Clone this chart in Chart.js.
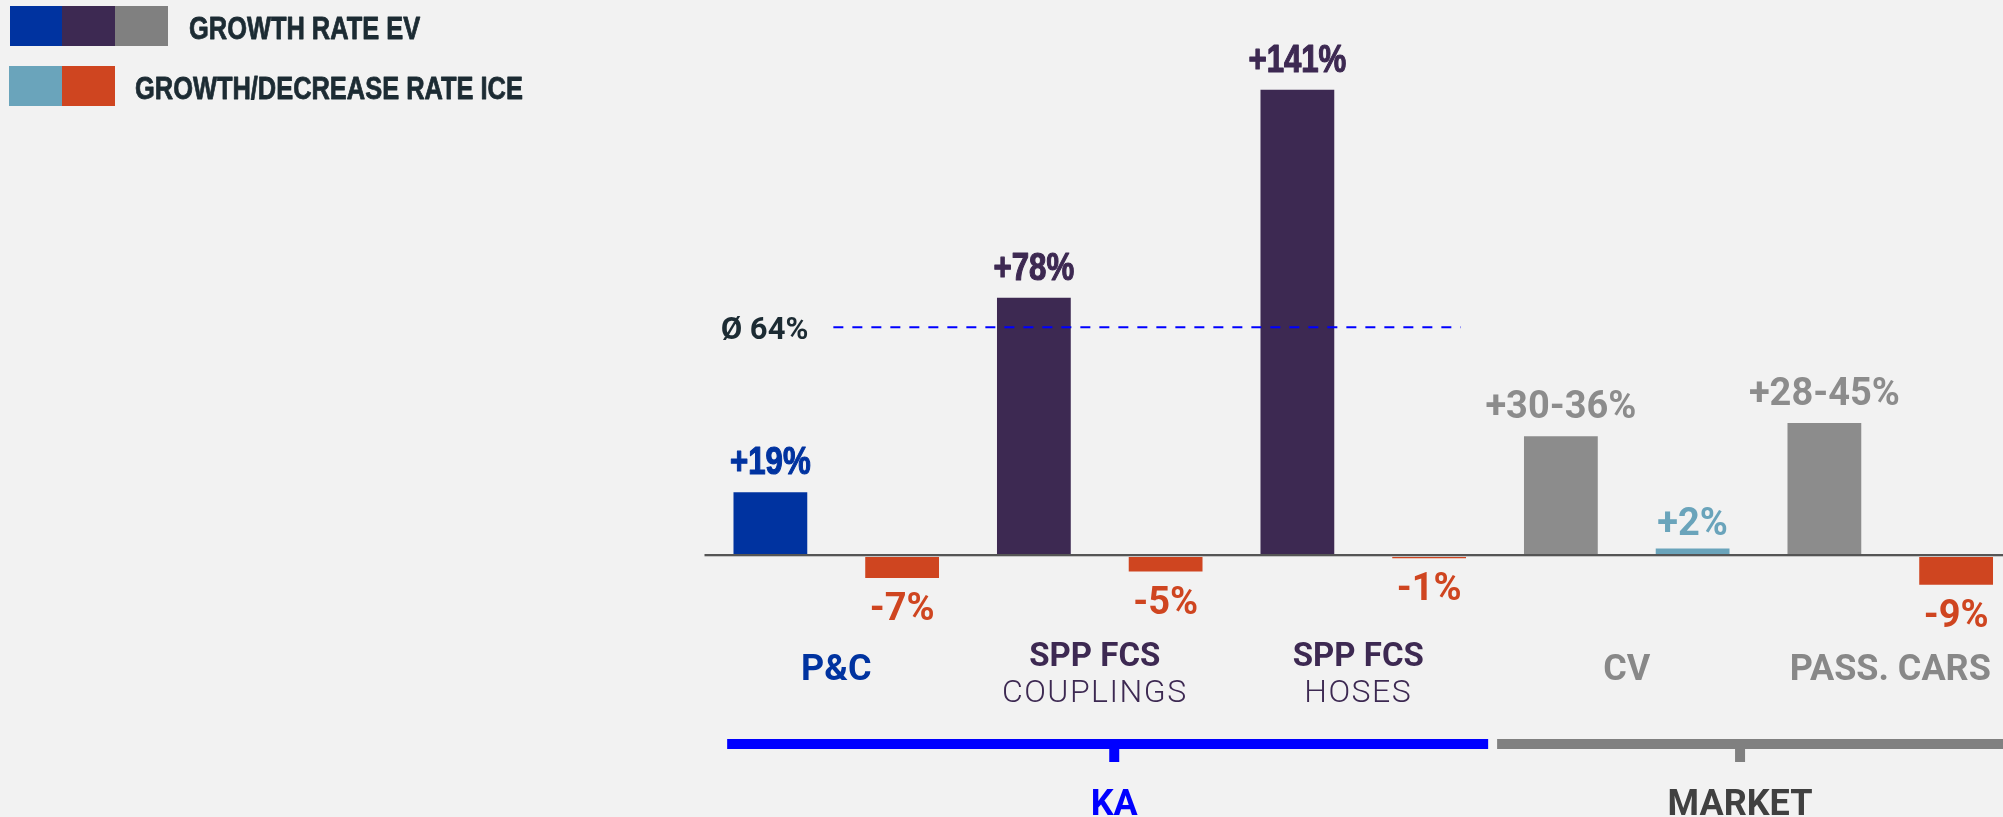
<!DOCTYPE html>
<html>
<head>
<meta charset="utf-8">
<script src="https://cdn.jsdelivr.net/npm/chart.js@4.4.1/dist/chart.umd.min.js"></script>
<style>
  html, body { margin: 0; padding: 0; background: #f2f2f2; overflow: hidden; width: 2003px; height: 817px; }
  #wrap { position: absolute; left: 0; top: 0; width: 2030px; height: 817px; }
  canvas { display: block; }
</style>
</head>
<body>
<div id="wrap"><canvas id="c" width="2030" height="817"></canvas></div>
<script>
// ---------------- data ----------------
const categories = ['P&C', 'SPP FCS COUPLINGS', 'SPP FCS HOSES', 'CV', 'PASS. CARS'];
const catTitle = ['P&C', 'SPP FCS', 'SPP FCS', 'CV', 'PASS. CARS'];
const catSub = ['', 'COUPLINGS', 'HOSES', '', ''];
const evValues = [19, 78, 141, 36, 40];
const iceValues = [-7, -5, -1, 2, -9];
const evLabels = ['+19%', '+78%', '+141%', '+30-36%', '+28-45%'];
const iceLabels = ['-7%', '-5%', '-1%', '+2%', '-9%'];
const legendLabels = ['GROWTH RATE EV', 'GROWTH/DECREASE RATE ICE'];
const groupNames = ['KA', 'MARKET'];
const averageLabel = 'Ø 64%';
const averageLevel = 69;

// ---------------- styles ----------------
const BLUE = '#0033a0', PURPLE = '#3d2952', GREY = '#8c8c8c', LBLUE = '#6aa4bb', ORANGE = '#cf4520';
const evColors = [BLUE, PURPLE, PURPLE, GREY, GREY];
const iceColors = [ORANGE, ORANGE, ORANGE, LBLUE, ORANGE];
const evCondensed = [true, true, true, false, false];
const catColors = [BLUE, PURPLE, PURPLE, '#888888', '#888888'];
const groupStyle = [
  { from: -0.414, to: 2.474, tick: 1.055, bar: '#0000ff', text: '#0000ff' },
  { from: 2.508, to: 4.6, tick: 3.43, bar: '#808080', text: '#404040' }
];
const Y_MAX = 168.2, Y_MIN = -79.4;

function hasFont(name) {
  const c = document.createElement('canvas').getContext('2d');
  const s = 'GROWTH RATE EV +141%';
  c.font = 'bold 40px monospace';
  const w1 = c.measureText(s).width;
  c.font = 'bold 40px "' + name + '", monospace';
  const w2 = c.measureText(s).width;
  return Math.abs(w1 - w2) > 0.5;
}
const NARROW = hasFont('Liberation Sans Narrow');

function condText(ctx, txt, x, y, size, color, align, heavy) {
  ctx.save();
  ctx.fillStyle = color;
  ctx.strokeStyle = color;
  ctx.lineWidth = heavy || 0;
  ctx.lineJoin = 'round';
  ctx.textAlign = align || 'center';
  ctx.textBaseline = 'alphabetic';
  if (NARROW) {
    ctx.font = 'bold ' + size + 'px "Liberation Sans Narrow"';
  } else {
    ctx.translate(x, y);
    ctx.scale(0.82, 1);
    x = 0; y = 0;
    ctx.font = 'bold ' + size + 'px "Liberation Sans", Arial, sans-serif';
  }
  ctx.fillText(txt, x, y);
  if (heavy) ctx.strokeText(txt, x, y);
  ctx.restore();
}
function text(ctx, txt, x, y, font, color, align, spacing) {
  ctx.save();
  ctx.fillStyle = color;
  ctx.font = font;
  ctx.textAlign = align || 'center';
  ctx.textBaseline = 'alphabetic';
  if (spacing) ctx.letterSpacing = spacing + 'px';
  ctx.fillText(txt, x, y);
  ctx.restore();
}

const overlay = {
  id: 'overlay',
  afterDatasetsDraw(chart) {
    const ctx = chart.ctx;
    const xs = chart.scales.x, ys = chart.scales.y;
    const area = chart.chartArea;
    const y0 = ys.getPixelForValue(0);

    // zero line
    ctx.save();
    ctx.fillStyle = '#555555';
    ctx.fillRect(area.left, y0 - 1, area.right - area.left, 2);
    ctx.fillStyle = '#c4c4c4';
    ctx.fillRect(area.left, y0 + 1, area.right - area.left, 1);
    ctx.restore();

    // average dashed line
    const ya = ys.getPixelForValue(averageLevel);
    const xa0 = xs.getPixelForValue(-0.011), xa1 = xs.getPixelForValue(2.37);
    ctx.save();
    ctx.strokeStyle = '#0000ff';
    ctx.lineWidth = 2;
    ctx.setLineDash([10, 9]);
    ctx.beginPath();
    ctx.moveTo(xa0, ya);
    ctx.lineTo(xa1, ya);
    ctx.stroke();
    ctx.restore();
    text(ctx, averageLabel, xa0 - 25, ya + 12, 'bold 31px Roboto', '#1c2b33', 'right');

    // value labels
    const evMeta = chart.getDatasetMeta(0), iceMeta = chart.getDatasetMeta(1);
    evMeta.data.forEach((el, i) => {
      const by = evValues[i] >= 0 ? el.y - 18 : el.y + 41;
      if (evCondensed[i]) condText(ctx, evLabels[i], el.x, by, 38, evColors[i], 'center', 1.2);
      else text(ctx, evLabels[i], el.x, by, 'bold 38px Roboto', evColors[i], 'center');
    });
    iceMeta.data.forEach((el, i) => {
      const by = iceValues[i] >= 0 ? el.y - 13 : el.y + 42;
      text(ctx, iceLabels[i], el.x, by, 'bold 38px Roboto', iceColors[i], 'center');
    });

    // category labels
    categories.forEach((c, i) => {
      const x = xs.getPixelForValue(i);
      if (catSub[i]) {
        text(ctx, catTitle[i], x - 5, 666, 'bold 33px Roboto', catColors[i], 'center');
        text(ctx, catSub[i], x - 5, 702, '300 32px Roboto', catColors[i], 'center', 1.5);
      } else {
        text(ctx, catTitle[i], x, 680, 'bold 36px Roboto', catColors[i], 'center');
      }
    });

    // group brackets
    groupNames.forEach((g, i) => {
      const s = groupStyle[i];
      const a = xs.getPixelForValue(s.from), b = xs.getPixelForValue(s.to);
      const t = xs.getPixelForValue(s.tick);
      ctx.save();
      ctx.fillStyle = s.bar;
      ctx.fillRect(a, 739, b - a, 10);
      ctx.fillRect(t - 5, 749, 10, 13);
      ctx.restore();
      text(ctx, g, t, 815, 'bold 36px Roboto', s.text, 'center');
    });

    // legend
    ctx.save();
    ctx.fillStyle = BLUE;   ctx.fillRect(10, 6, 52, 40);
    ctx.fillStyle = PURPLE; ctx.fillRect(62, 6, 53, 40);
    ctx.fillStyle = '#808080'; ctx.fillRect(115, 6, 53, 40);
    ctx.fillStyle = LBLUE;  ctx.fillRect(9, 66, 53, 40);
    ctx.fillStyle = ORANGE; ctx.fillRect(62, 66, 53, 40);
    ctx.restore();
    condText(ctx, legendLabels[0], 189, 39, 31, '#1c2b33', 'left', 0.8);
    condText(ctx, legendLabels[1], 135, 99, 31, '#1c2b33', 'left', 0.8);
  }
};

new Chart(document.getElementById('c'), {
  type: 'bar',
  data: {
    labels: categories,
    datasets: [
      { label: legendLabels[0], data: evValues, backgroundColor: evColors, borderWidth: 0 },
      { label: legendLabels[1], data: iceValues, backgroundColor: iceColors, borderWidth: 0 }
    ]
  },
  options: {
    responsive: false,
    animation: false,
    devicePixelRatio: 1,
    layout: { padding: { left: 704.5, right: 8, top: 0, bottom: 0 } },
    datasets: { bar: { categoryPercentage: 1.0, barPercentage: 0.56 } },
    scales: {
      x: { display: false, offset: true, grid: { display: false } },
      y: { display: false, min: Y_MIN, max: Y_MAX, grid: { display: false } }
    },
    plugins: { legend: { display: false }, tooltip: { enabled: false } }
  },
  plugins: [overlay]
});
</script>
</body>
</html>
